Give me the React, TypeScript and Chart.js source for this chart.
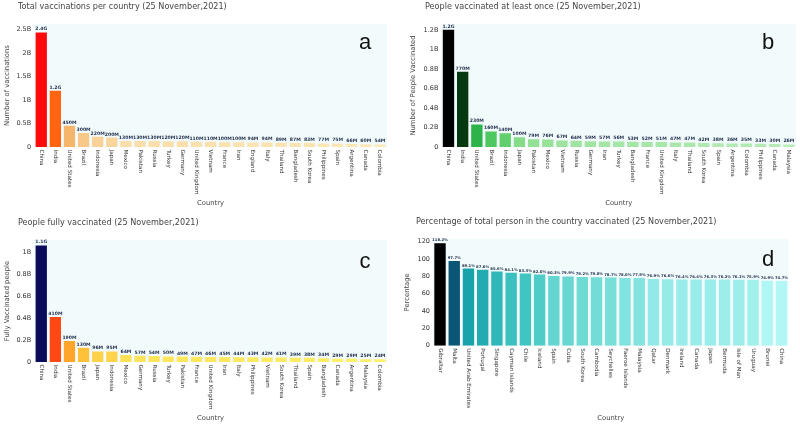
import React, { useEffect, useRef } from "react";
import { Chart, registerables } from "chart.js";
Chart.register(...registerables);

const FONT = "'DejaVu Sans', Verdana, sans-serif";

// ---- Data ----
const aCountries = ["China", "India", "United States", "Brazil", "Indonesia", "Japan", "Mexico", "Pakistan", "Russia", "Turkey", "Germany", "United Kingdom", "Vietnam", "France", "Iran", "England", "Italy", "Thailand", "Bangladesh", "South Korea", "Philippines", "Spain", "Argentina", "Canada", "Colombia"];
const aTotal = [2.44e9, 1.2e9, 4.5e8, 3.0e8, 2.2e8, 2.0e8, 1.3e8, 1.3e8, 1.3e8, 1.2e8, 1.2e8, 1.1e8, 1.1e8, 1.0e8, 1.0e8, 9.4e7, 9.4e7, 8.9e7, 8.7e7, 8.3e7, 7.7e7, 7.5e7, 6.6e7, 6.0e7, 5.4e7];

const bCountries = ["China", "India", "United States", "Brazil", "Indonesia", "Japan", "Pakistan", "Mexico", "Vietnam", "Russia", "Germany", "Iran", "Turkey", "Bangladesh", "France", "United Kingdom", "Italy", "Thailand", "South Korea", "Spain", "Argentina", "Colombia", "Philippines", "Canada", "Malaysia"];
const bOnce = [1.2e9, 7.7e8, 2.3e8, 1.6e8, 1.4e8, 1.0e8, 7.9e7, 7.6e7, 6.7e7, 6.4e7, 5.9e7, 5.7e7, 5.6e7, 5.3e7, 5.2e7, 5.1e7, 4.7e7, 4.7e7, 4.2e7, 3.8e7, 3.6e7, 3.5e7, 3.3e7, 3.0e7, 2.6e7];

const cCountries = ["China", "India", "United States", "Brazil", "Japan", "Indonesia", "Mexico", "Germany", "Russia", "Turkey", "Pakistan", "France", "United Kingdom", "Iran", "Italy", "Philippines", "Vietnam", "South Korea", "Thailand", "Spain", "Bangladesh", "Canada", "Argentina", "Malaysia", "Colombia"];
const cFully = [1.06e9, 4.1e8, 1.9e8, 1.3e8, 9.6e7, 9.5e7, 6.4e7, 5.7e7, 5.4e7, 5.0e7, 4.9e7, 4.7e7, 4.6e7, 4.5e7, 4.4e7, 4.3e7, 4.2e7, 4.1e7, 3.9e7, 3.8e7, 3.4e7, 2.9e7, 2.9e7, 2.5e7, 2.4e7];

const dCountries = ["Gibraltar", "Malta", "United Arab Emirates", "Portugal", "Singapore", "Cayman Islands", "Chile", "Iceland", "Spain", "Cuba", "South Korea", "Cambodia", "Seychelles", "Faeroe Islands", "Malaysia", "Qatar", "Denmark", "Ireland", "Canada", "Japan", "Bermuda", "Isle of Man", "Uruguay", "Brunei", "China"];
const dPercent = [118.2, 97.7, 89.1, 87.6, 85.6, 84.1, 83.3, 82.0, 80.3, 79.9, 79.2, 79.0, 78.7, 78.0, 77.9, 76.9, 76.6, 76.4, 76.4, 76.3, 76.2, 76.1, 75.9, 74.9, 74.7];

const aTicks = { max: 2.62e9, step: 0.5e9 };
const bTicks = { max: 1.26e9, step: 0.2e9 };
const cTicks = { max: 1.11e9, step: 0.2e9 };
const dTicks = { max: 123, step: 20 };

// ---- helpers ----
function hexToRgb(h: string) {
  const n = parseInt(h.slice(1), 16);
  return [(n >> 16) & 255, (n >> 8) & 255, n & 255];
}
function scaleColor(stops: [number, string][], t: number) {
  for (let i = 1; i < stops.length; i++) {
    if (t <= stops[i][0]) {
      const [t0, c0] = stops[i - 1];
      const [t1, c1] = stops[i];
      const f = t1 === t0 ? 0 : (t - t0) / (t1 - t0);
      const a = hexToRgb(c0), b = hexToRgb(c1);
      const r = a.map((v, k) => Math.round(v + (b[k] - v) * f));
      return `rgb(${r[0]},${r[1]},${r[2]})`;
    }
  }
  return stops[stops.length - 1][1];
}
function colorsFor(values: number[], stops: [number, string][]) {
  const mn = Math.min(...values), mx = Math.max(...values);
  return values.map((v) => scaleColor(stops, (v - mn) / (mx - mn)));
}
function sig2(x: number) {
  const e = Math.floor(Math.log10(x));
  const p = Math.pow(10, e - 1);
  const r = Math.round(x / p) * p;
  return r.toFixed(Math.max(0, 1 - e));
}
function siLabel(v: number) {
  if (v >= 1e9) return sig2(v / 1e9) + "G";
  return sig2(v / 1e6) + "M";
}
function axisB(v: number) {
  if (v === 0) return "0";
  return parseFloat((v / 1e9).toFixed(2)) + "B";
}

type PanelCfg = {
  x: number; y: number;
  labels: string[]; values: number[];
  stops: [number, string][];
  ticks: { max: number; step: number };
  axisFmt: (v: number) => string;
  barFmt: (v: number) => string;
  barFont: number;
  title: string; titleX: number; titleY: number;
  yTitle: string; yTitlePad: number;
  xTitlePad: number;
  left: number; right: number; top: number; bottom: number;
  letter: string; letterX: number; letterY: number;
};

const W = 400, H = 213;

const panels: PanelCfg[] = [
  {
    x: 0, y: 0, labels: aCountries, values: aTotal,
    stops: [[0, "#fde8b8"], [0.1, "#f8c98a"], [0.17, "#f5b56a"], [0.48, "#ff6410"], [1, "#ff0a0a"]],
    ticks: aTicks, axisFmt: axisB, barFmt: siLabel, barFont: 4.6,
    title: "Total vaccinations per country (25 November,2021)", titleX: 18, titleY: 7,
    yTitle: "Number of vaccinations", yTitlePad: 3, xTitlePad: 6,
    left: 34.2, right: 387, top: 24, bottom: 147,
    letter: "a", letterX: 365, letterY: 43,
  },
  {
    x: 400, y: 0, labels: bCountries, values: bOnce,
    stops: [[0, "#b9ecb9"], [0.063, "#86dc88"], [0.114, "#50c862"], [0.17, "#2cb44a"], [0.63, "#063a10"], [1, "#000000"]],
    ticks: bTicks, axisFmt: axisB, barFmt: siLabel, barFont: 4.6,
    title: "People vaccinated at least once (25 November,2021)", titleX: 25, titleY: 7,
    yTitle: "Number of People Vaccinated", yTitlePad: 9, xTitlePad: 6,
    left: 41.4, right: 396, top: 24, bottom: 147,
    letter: "b", letterX: 368, letterY: 43,
  },
  {
    x: 0, y: 213, labels: cCountries, values: cFully,
    stops: [[0, "#fff16c"], [0.04, "#ffe055"], [0.07, "#ffd24a"], [0.1, "#ffc23a"], [0.16, "#ffa52a"], [0.372, "#ff4814"], [1, "#0b0b5c"]],
    ticks: cTicks, axisFmt: axisB, barFmt: siLabel, barFont: 4.6,
    title: "People fully vaccinated (25 November,2021)", titleX: 18, titleY: 9.7,
    yTitle: "Fully Vaccinated people", yTitlePad: 3, xTitlePad: 4,
    left: 34.2, right: 387, top: 27, bottom: 149,
    letter: "c", letterX: 365, letterY: 48.7,
  },
  {
    x: 400, y: 213, labels: dCountries, values: dPercent,
    stops: [[0, "#b2f7f5"], [0.1, "#72dcd6"], [0.2, "#40c4c2"], [0.33, "#18a2aa"], [0.52, "#0b5878"], [1, "#000000"]],
    ticks: dTicks, axisFmt: (v) => String(v), barFmt: (v) => v.toFixed(1) + "%", barFont: 3.8,
    title: "Percentage of total person in the country vaccinated (25 November,2021)", titleX: 16, titleY: 9.3,
    yTitle: "Percentage", yTitlePad: 3, xTitlePad: 4,
    left: 32.9, right: 388.6, top: 26, bottom: 132.7,
    letter: "d", letterX: 368, letterY: 47,
  },
];

function Panel({ cfg }: { cfg: PanelCfg }) {
  const ref = useRef<HTMLCanvasElement>(null);
  useEffect(() => {
    const plugin = {
      id: "panelDecor" + cfg.letter,
      beforeDatasetsDraw(chart: any) {
        const { ctx, chartArea } = chart;
        ctx.save();
        ctx.fillStyle = "#f2fbfc";
        ctx.fillRect(chartArea.left, chartArea.top, chartArea.right - chartArea.left, chartArea.bottom - chartArea.top);
        ctx.restore();
      },
      afterDatasetsDraw(chart: any) {
        const { ctx } = chart;
        const meta = chart.getDatasetMeta(0);
        ctx.save();
        ctx.fillStyle = "#1f2d4a";
        ctx.font = `bold ${cfg.barFont}px ${FONT}`;
        ctx.textAlign = "center";
        ctx.textBaseline = "bottom";
        meta.data.forEach((el: any, i: number) => {
          ctx.fillText(cfg.barFmt(cfg.values[i]), el.x, el.y - 1);
        });
        ctx.restore();
      },
      afterDraw(chart: any) {
        const { ctx, chartArea } = chart;
        const xs = chart.scales.x;
        ctx.save();
        // x tick labels, rotated clockwise
        ctx.fillStyle = "#333";
        ctx.font = `5.6px ${FONT}`;
        ctx.textAlign = "left";
        ctx.textBaseline = "middle";
        cfg.labels.forEach((lab, i) => {
          const px = xs.getPixelForTick(i);
          ctx.save();
          ctx.translate(px, chartArea.bottom + 2.5);
          ctx.rotate(Math.PI / 2);
          ctx.fillText(lab, 0, 0);
          ctx.restore();
        });
        // title
        ctx.fillStyle = "#444";
        ctx.font = `8.1px ${FONT}`;
        ctx.textAlign = "left";
        ctx.textBaseline = "middle";
        ctx.fillText(cfg.title, cfg.titleX, cfg.titleY);
        // panel letter
        ctx.fillStyle = "#111";
        ctx.font = `22px 'Liberation Sans', Arial, sans-serif`;
        ctx.textAlign = "center";
        ctx.fillText(cfg.letter, cfg.letterX, cfg.letterY);
        ctx.restore();
      },
    };
    const chart = new Chart(ref.current as HTMLCanvasElement, {
      type: "bar",
      data: {
        labels: cfg.labels,
        datasets: [
          {
            data: cfg.values,
            backgroundColor: colorsFor(cfg.values, cfg.stops),
            borderWidth: 0,
            barPercentage: 0.8,
            categoryPercentage: 1,
          },
        ],
      },
      options: {
        responsive: false,
        animation: false,
        devicePixelRatio: 1,
        layout: { padding: { top: cfg.top, right: W - cfg.right, bottom: 0, left: 0 } },
        plugins: { legend: { display: false }, tooltip: { enabled: false }, title: { display: false } },
        scales: {
          x: {
            type: "category",
            offset: true,
            grid: { display: false },
            border: { display: false },
            ticks: { display: false },
            title: {
              display: true, text: "Country", color: "#444",
              font: { family: FONT, size: 6.8 },
              padding: { top: 0, bottom: cfg.xTitlePad },
            },
            afterFit: (s: any) => { s.height = H - cfg.bottom; },
          },
          y: {
            min: 0,
            max: cfg.ticks.max,
            grid: { display: false, drawTicks: false },
            border: { display: false },
            afterBuildTicks: (s: any) => {
              const t: { value: number }[] = [];
              for (let i = 0; i * cfg.ticks.step <= cfg.ticks.max; i++) t.push({ value: i * cfg.ticks.step });
              s.ticks = t;
            },
            ticks: {
              padding: 3,
              color: "#333",
              font: { family: FONT, size: 6.5 },
              autoSkip: false,
              callback: (v: any) => cfg.axisFmt(Number(v)),
            },
            title: {
              display: true, text: cfg.yTitle, color: "#444",
              font: { family: FONT, size: 6.8 },
              padding: { top: cfg.yTitlePad, bottom: 0 },
            },
            afterFit: (s: any) => { s.width = cfg.left; },
          },
        },
      } as any,
      plugins: [plugin],
    });
    return () => chart.destroy();
  }, []);
  return (
    <canvas
      ref={ref}
      width={W}
      height={H}
      style={{ position: "absolute", left: cfg.x, top: cfg.y, width: W, height: H, display: "block" }}
    />
  );
}

export default function App() {
  return (
    <div style={{ position: "fixed", left: 0, top: 0, width: 800, height: 426, background: "#ffffff", overflow: "hidden" }}>
      {panels.map((p) => (
        <Panel key={p.letter} cfg={p} />
      ))}
    </div>
  );
}
